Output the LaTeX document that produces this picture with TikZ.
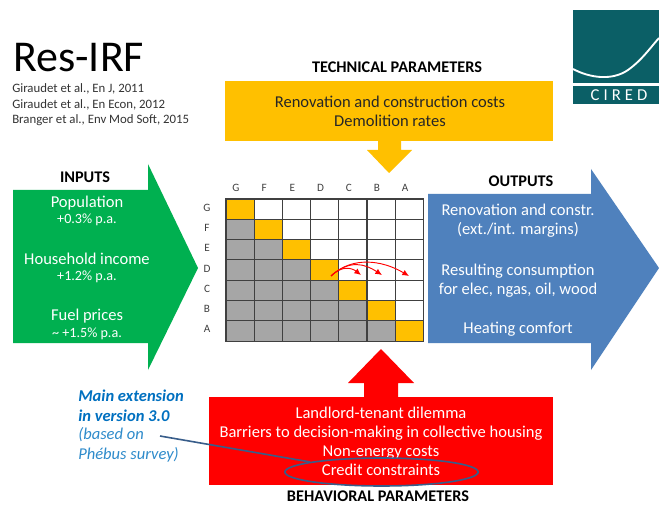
\documentclass[tikz,border=0pt]{standalone}
\usepackage{fontspec}
\setmainfont{Carlito}
\usetikzlibrary{shapes.geometric,arrows.meta}
\definecolor{gold}{HTML}{FFC000}
\definecolor{igreen}{HTML}{00B050}
\definecolor{oblue}{HTML}{4F81BD}
\definecolor{cellgray}{HTML}{A6A6A6}
\definecolor{ciredteal}{HTML}{0B5F66}
\definecolor{linkblue}{HTML}{0070C0}
\definecolor{softblue}{HTML}{2E8BCB}
\definecolor{ovalblue}{HTML}{385D8A}
\definecolor{gridline}{HTML}{404040}
\tikzset{
 wtext/.style={text=white,align=center,font=\fontsize{12.4}{14.3}\selectfont},
 wsmall/.style={text=white,align=center,font=\fontsize{10.6}{12}\selectfont},
 head/.style={inner sep=0pt,font=\bfseries\fontsize{12.2}{14}\selectfont},
 ref/.style={anchor=west,inner sep=0pt,text=black!80,font=\fontsize{9.6}{11}\selectfont},
 cell/.style={draw=gridline,line width=0.8pt},
 lab/.style={text=gridline,font=\fontsize{8.4}{9}\selectfont},
 swoop/.style={red,line width=0.7pt,-{Latex[length=5pt,width=4.5pt]}},
}
\begin{document}
\begin{tikzpicture}[x=0.75pt,y=-0.75pt]
\useasboundingbox (0,0) rectangle (659,505);
\fill[white] (0,0) rectangle (659,505);
% title
\node[anchor=west,inner sep=0pt,font=\fontsize{33}{36}\selectfont] (title) at (13,58) {Res-IRF};
\node[ref] (r1) at (12,89) {Giraudet et al., En J, 2011};
\node[ref] (r2) at (12,105) {Giraudet et al., En Econ, 2012};
\node[ref] (r3) at (12,120) {Branger et al., Env Mod Soft, 2015};
% logo
\fill[ciredteal] (573,10) rectangle (659,83);
\draw[white,line width=1.4pt] (573,69) .. controls (590,78) and (612,81) .. (628,70) .. controls (642,60) and (650,48) .. (659,38);
\fill[ciredteal] (573,86) rectangle (659,104);
\node[text=white,font=\fontsize{12.5}{13}\selectfont] (cired) at (619,95) {C\hspace{3pt}I\hspace{3pt}R\hspace{3pt}E\hspace{3pt}D};
% top box
\fill[gold] (225,81) rectangle (553,141);
\fill[gold] (378,141) -- (378,150) -- (367,150) -- (389,173) -- (412,150) -- (401,150) -- (401,141) -- cycle;
\node[text=black!85,align=center,font=\fontsize{12.4}{14.3}\selectfont] (tech) at (390,111) {Renovation and construction costs\\Demolition rates};
\node[head] (techh) at (397,67) {TECHNICAL PARAMETERS};
% inputs
\fill[igreen] (13,190) -- (148,190) -- (148,164) -- (198,268) -- (148,370) -- (148,343) -- (13,343) -- cycle;
\node[head] (inh) at (85,177) {INPUTS};
\node[wtext] (pop) at (87,203) {Population};
\node[wsmall] (popv) at (87,220) {+0.3\% p.a.};
\node[wtext] (inc) at (87,259) {Household income};
\node[wsmall] (incv) at (87,277) {+1.2\% p.a.};
\node[wtext] (fuel) at (87,316) {Fuel prices};
\node[wsmall] (fuelv) at (87,334) {\textasciitilde\ +1.5\% p.a.};
% outputs
\fill[oblue] (428,194) -- (591,194) -- (591,169) -- (659,268) -- (591,370) -- (591,343) -- (428,343) -- cycle;
\node[head] (outh) at (521,181) {OUTPUTS};
\node[wtext] (o1) at (518,221) {Renovation and constr.\\(ext./int. margins)};
\node[wtext] (o2) at (518,281) {Resulting consumption\\for elec, ngas, oil, wood};
\node[wtext] (o3) at (518,329) {Heating comfort};
% grid
\foreach \r in {0,...,6}{
 \foreach \c in {0,...,6}{
  \pgfmathsetmacro{\xa}{226+28.2*\c}
  \pgfmathsetmacro{\ya}{199+20.3*\r}
  \pgfmathsetmacro{\xb}{\xa+28.2}
  \pgfmathsetmacro{\yb}{\ya+20.3}
  \ifnum\c<\r \def\cc{cellgray}\else\ifnum\c=\r \def\cc{gold}\else\def\cc{white}\fi\fi
  \filldraw[cell,fill=\cc] (\xa,\ya) rectangle (\xb,\yb);
 }
}
\foreach \t [count=\i from 0] in {G,F,E,D,C,B,A}{
  \pgfmathsetmacro{\xa}{236+28.2*\i}
  \pgfmathsetmacro{\ya}{208+20.2*\i}
  \node[lab] (col\t) at (\xa,188) {\t};
  \node[lab] (row\t) at (207,\ya) {\t};
}
\coordinate (sw) at (331,276);
\coordinate (e1) at (361,275);
\coordinate (e2) at (382,275);
\coordinate (e3) at (409,276);
\draw[swoop] (sw) .. controls (342,265) and (352,268) .. (e1);
\draw[swoop] (sw) .. controls (350,259) and (365,264) .. (e2);
\draw[swoop] (sw) .. controls (352,256) and (382,260) .. (e3);
% bottom box
\fill[red] (209,397) rectangle (553,485);
\fill[red] (364,397) -- (364,383) -- (348,383) -- (381,349) -- (414,383) -- (398,383) -- (398,397) -- cycle;
\node[wtext] (beh) at (381,441) {Landlord-tenant dilemma\\Barriers to decision-making in collective housing\\Non-energy costs\\Credit constraints};
\node[head] (behh) at (378,496.5) {BEHAVIORAL PARAMETERS};
% note
\node[anchor=west,inner sep=0pt,align=left,text=linkblue,font=\bfseries\itshape\fontsize{12.4}{14.8}\selectfont] (note) at (78,406) {Main extension\\in version 3.0};
\node[anchor=west,inner sep=0pt,align=left,text=softblue,font=\itshape\fontsize{12.4}{14.8}\selectfont] (note2) at (78,445) {(based on\\Phébus survey)};
\node[draw=ovalblue,line width=1.2pt,ellipse,minimum width=145pt,minimum height=21pt,inner sep=0pt] (oval) at (381.5,472) {};
\coordinate (ls) at (160,436);
\draw[ovalblue,line width=1.2pt] (ls) -- (oval.172);
\end{tikzpicture}
\end{document}
